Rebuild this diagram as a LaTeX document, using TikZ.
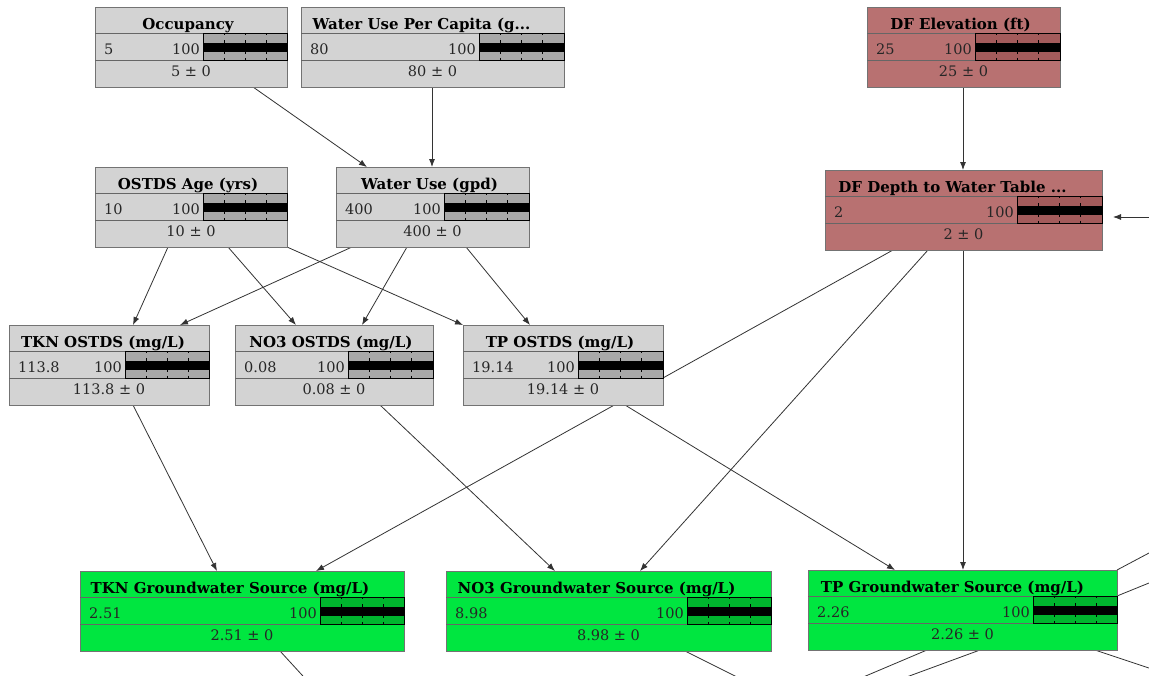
\documentclass[tikz,border=0pt]{standalone}
\usepackage{fontspec}
\setmainfont{DejaVu Serif}
\usetikzlibrary{calc,arrows.meta}
\pgfdeclarelayer{canvas}
\pgfdeclarelayer{edges}
\pgfsetlayers{canvas,edges,main}

% node palettes: g = gray, r = red, n = green
\definecolor{fillg}{HTML}{D3D3D3}
\definecolor{bandg}{HTML}{A8A8A8}
\definecolor{fillr}{HTML}{B87171}
\definecolor{bandr}{HTML}{A35B5B}
\definecolor{filln}{HTML}{00E640}
\definecolor{bandn}{HTML}{00B52E}
\definecolor{edgec}{HTML}{333333}

\tikzset{
  x=1pt, y=-1pt,
  box/.style={draw=black!55, line width=0.8pt, rectangle, minimum height=80pt,
    anchor=north west, inner sep=0pt, outer sep=0pt},
  ttl/.style={font=\fontsize{15}{17}\selectfont\bfseries, inner sep=0pt, anchor=base},
  val/.style={font=\fontsize{14.5}{16}\selectfont, text=black!85, inner sep=0pt, anchor=base},
  sep/.style={draw=black!60, line width=0.7pt},
  tick/.style={draw=black, line width=0.6pt},
  link/.style={draw=edgec, line width=0.8pt, -{Latex[length=8pt,width=6pt]}},
  stub/.style={draw=edgec, line width=0.8pt},
}

% belief node: name, x, y, width, bar width, palette, title, value, mean
\def\tsh{0}
\newcommand\bbn[9]{%
  \node[box, fill=fill#6, minimum width=#4pt] (#1) at (#2,#3) {};
  \draw[sep] ($(#1.north west)+(0,26)$) -- ($(#1.north east)+(0,26)$);
  \draw[sep] ($(#1.north west)+(0,53)$) -- ($(#1.north east)+(0,53)$);
  \filldraw[fill=band#6, draw=black, line width=0.8pt]
    ($(#1.north east)+(-#5,26)$) rectangle ($(#1.north east)+(0,53)$);
  \fill[black] ($(#1.north east)+(-#5,35.5)$) rectangle ($(#1.north east)+(0,44.5)$);
  \foreach \k in {1,2,3}{
    \draw[tick] ($(#1.north east)+(-#5+\k*#5/4,26)$) -- ++(0,2.2);
    \draw[tick] ($(#1.north east)+(-#5+\k*#5/4,33.3)$) -- ++(0,2.2);
    \draw[tick] ($(#1.north east)+(-#5+\k*#5/4,44.5)$) -- ++(0,2.2);
    \draw[tick] ($(#1.north east)+(-#5+\k*#5/4,50.8)$) -- ++(0,2.2);
  }
  \node[ttl] at ($(#1.north)+(\tsh,22)$) {#7};
  \node[val, anchor=base west] at ($(#1.north west)+(9,47)$) {#8};
  \node[val, anchor=base east] at ($(#1.north east)+(-#5-3,47)$) {100};
  \node[val] at ($(#1.north)+(0,69)$) {#9};
}

\begin{document}
\begin{tikzpicture}
\useasboundingbox (0,0) rectangle (1149,675);
\clip (0,0) rectangle (1149,675);
\begin{pgfonlayer}{canvas}
  \fill[white] (0,0) rectangle (1149,675);
\end{pgfonlayer}

\def\tsh{-3}
\bbn{occ}{95}{7}{192}{84}{g}{Occupancy}{5}{5 ± 0}
\def\tsh{-11}
\bbn{wupc}{301}{7}{263}{85}{g}{Water Use Per Capita (g...}{80}{80 ± 0}
\def\tsh{-3}
\bbn{dfe}{867}{7}{193}{85}{r}{DF Elevation (ft)}{25}{25 ± 0}
\def\tsh{-11}
\bbn{dfd}{825}{170}{277}{85}{r}{DF Depth to Water Table ...}{2}{2 ± 0}
\def\tsh{-3}
\bbn{age}{95}{167}{192}{84}{g}{OSTDS Age (yrs)}{10}{10 ± 0}
\bbn{wu}{336}{167}{193}{85}{g}{Water Use (gpd)}{400}{400 ± 0}
\def\tsh{-6}
\bbn{tkn}{9}{325}{200}{84}{g}{TKN OSTDS (mg/L)}{113.8}{113.8 ± 0}
\def\tsh{-3}
\bbn{no3}{235}{325}{198}{85}{g}{NO3 OSTDS (mg/L)}{0.08}{0.08 ± 0}
\bbn{tp}{463}{325}{200}{85}{g}{TP OSTDS (mg/L)}{19.14}{19.14 ± 0}
\def\tsh{-12}
\bbn{tkng}{80}{571}{324}{84}{n}{TKN Groundwater Source (mg/L)}{2.51}{2.51 ± 0}
\bbn{no3g}{446}{571}{325}{84}{n}{NO3 Groundwater Source (mg/L)}{8.98}{8.98 ± 0}
\def\tsh{-10}
\bbn{tpg}{808}{570}{309}{84}{n}{TP Groundwater Source (mg/L)}{2.26}{2.26 ± 0}

% loose ends of links that run out of the drawing
\coordinate (inR)  at (1150,217);
\coordinate (outA) at (324,699);
\coordinate (outB) at (781,699);
\coordinate (outC) at (809,700);
\coordinate (outD) at (844,700);
\coordinate (outE) at (1203,686);
\coordinate (outF) at (1181,536);
\coordinate (outG) at (1181,570);

\begin{pgfonlayer}{edges}
  \draw[link] ($(occ.south west)+(158,0)$) -- ($(wu.north west)+(31,0)$);
  \draw[link] ($(wupc.south west)+(131,0)$) -- ($(wu.north west)+(96,0)$);
  \draw[link] ($(dfe.south west)+(96,0)$) -- ($(dfd.north west)+(138,0)$);
  \draw[link] (inR) -- ($(dfd.north east)+(11,47)$);
  \draw[link] ($(age.south west)+(73,0)$) -- ($(tkn.north west)+(124,0)$);
  \draw[link] ($(age.south west)+(133,0)$) -- ($(no3.north west)+(61,0)$);
  \draw[link] (age.south east) -- (tp.north west);
  \draw[link] ($(wu.south west)+(16,0)$) -- ($(tkn.north west)+(171,0)$);
  \draw[link] ($(wu.south west)+(71,0)$) -- ($(no3.north west)+(127,0)$);
  \draw[link] ($(wu.south west)+(130,0)$) -- ($(tp.north west)+(67,0)$);
  \draw[link] ($(dfd.south west)+(68,0)$) -- ($(tkng.north west)+(236,0)$);
  \draw[link] ($(dfd.south west)+(103,0)$) -- ($(no3g.north west)+(194,0)$);
  \draw[link] ($(dfd.south west)+(138,0)$) -- ($(tpg.north west)+(155,0)$);
  \draw[link] ($(tkn.south west)+(124,0)$) -- ($(tkng.north west)+(137,0)$);
  \draw[link] ($(no3.south west)+(145,0)$) -- ($(no3g.north west)+(109,0)$);
  \draw[link] ($(tp.south west)+(162,0)$) -- ($(tpg.north west)+(87,0)$);
  \draw[stub] ($(tkng.south west)+(200,0)$) -- (outA);
  \draw[stub] ($(no3g.south west)+(239,0)$) -- (outB);
  \draw[stub] ($(tpg.south west)+(119,0)$) -- (outC);
  \draw[stub] ($(tpg.south west)+(172,0)$) -- (outD);
  \draw[stub] ($(tpg.south west)+(287,0)$) -- (outE);
  \draw[stub] (tpg.north east) -- (outF);
  \draw[stub] ($(tpg.north east)+(0,26)$) -- (outG);
\end{pgfonlayer}
\end{tikzpicture}
\end{document}
